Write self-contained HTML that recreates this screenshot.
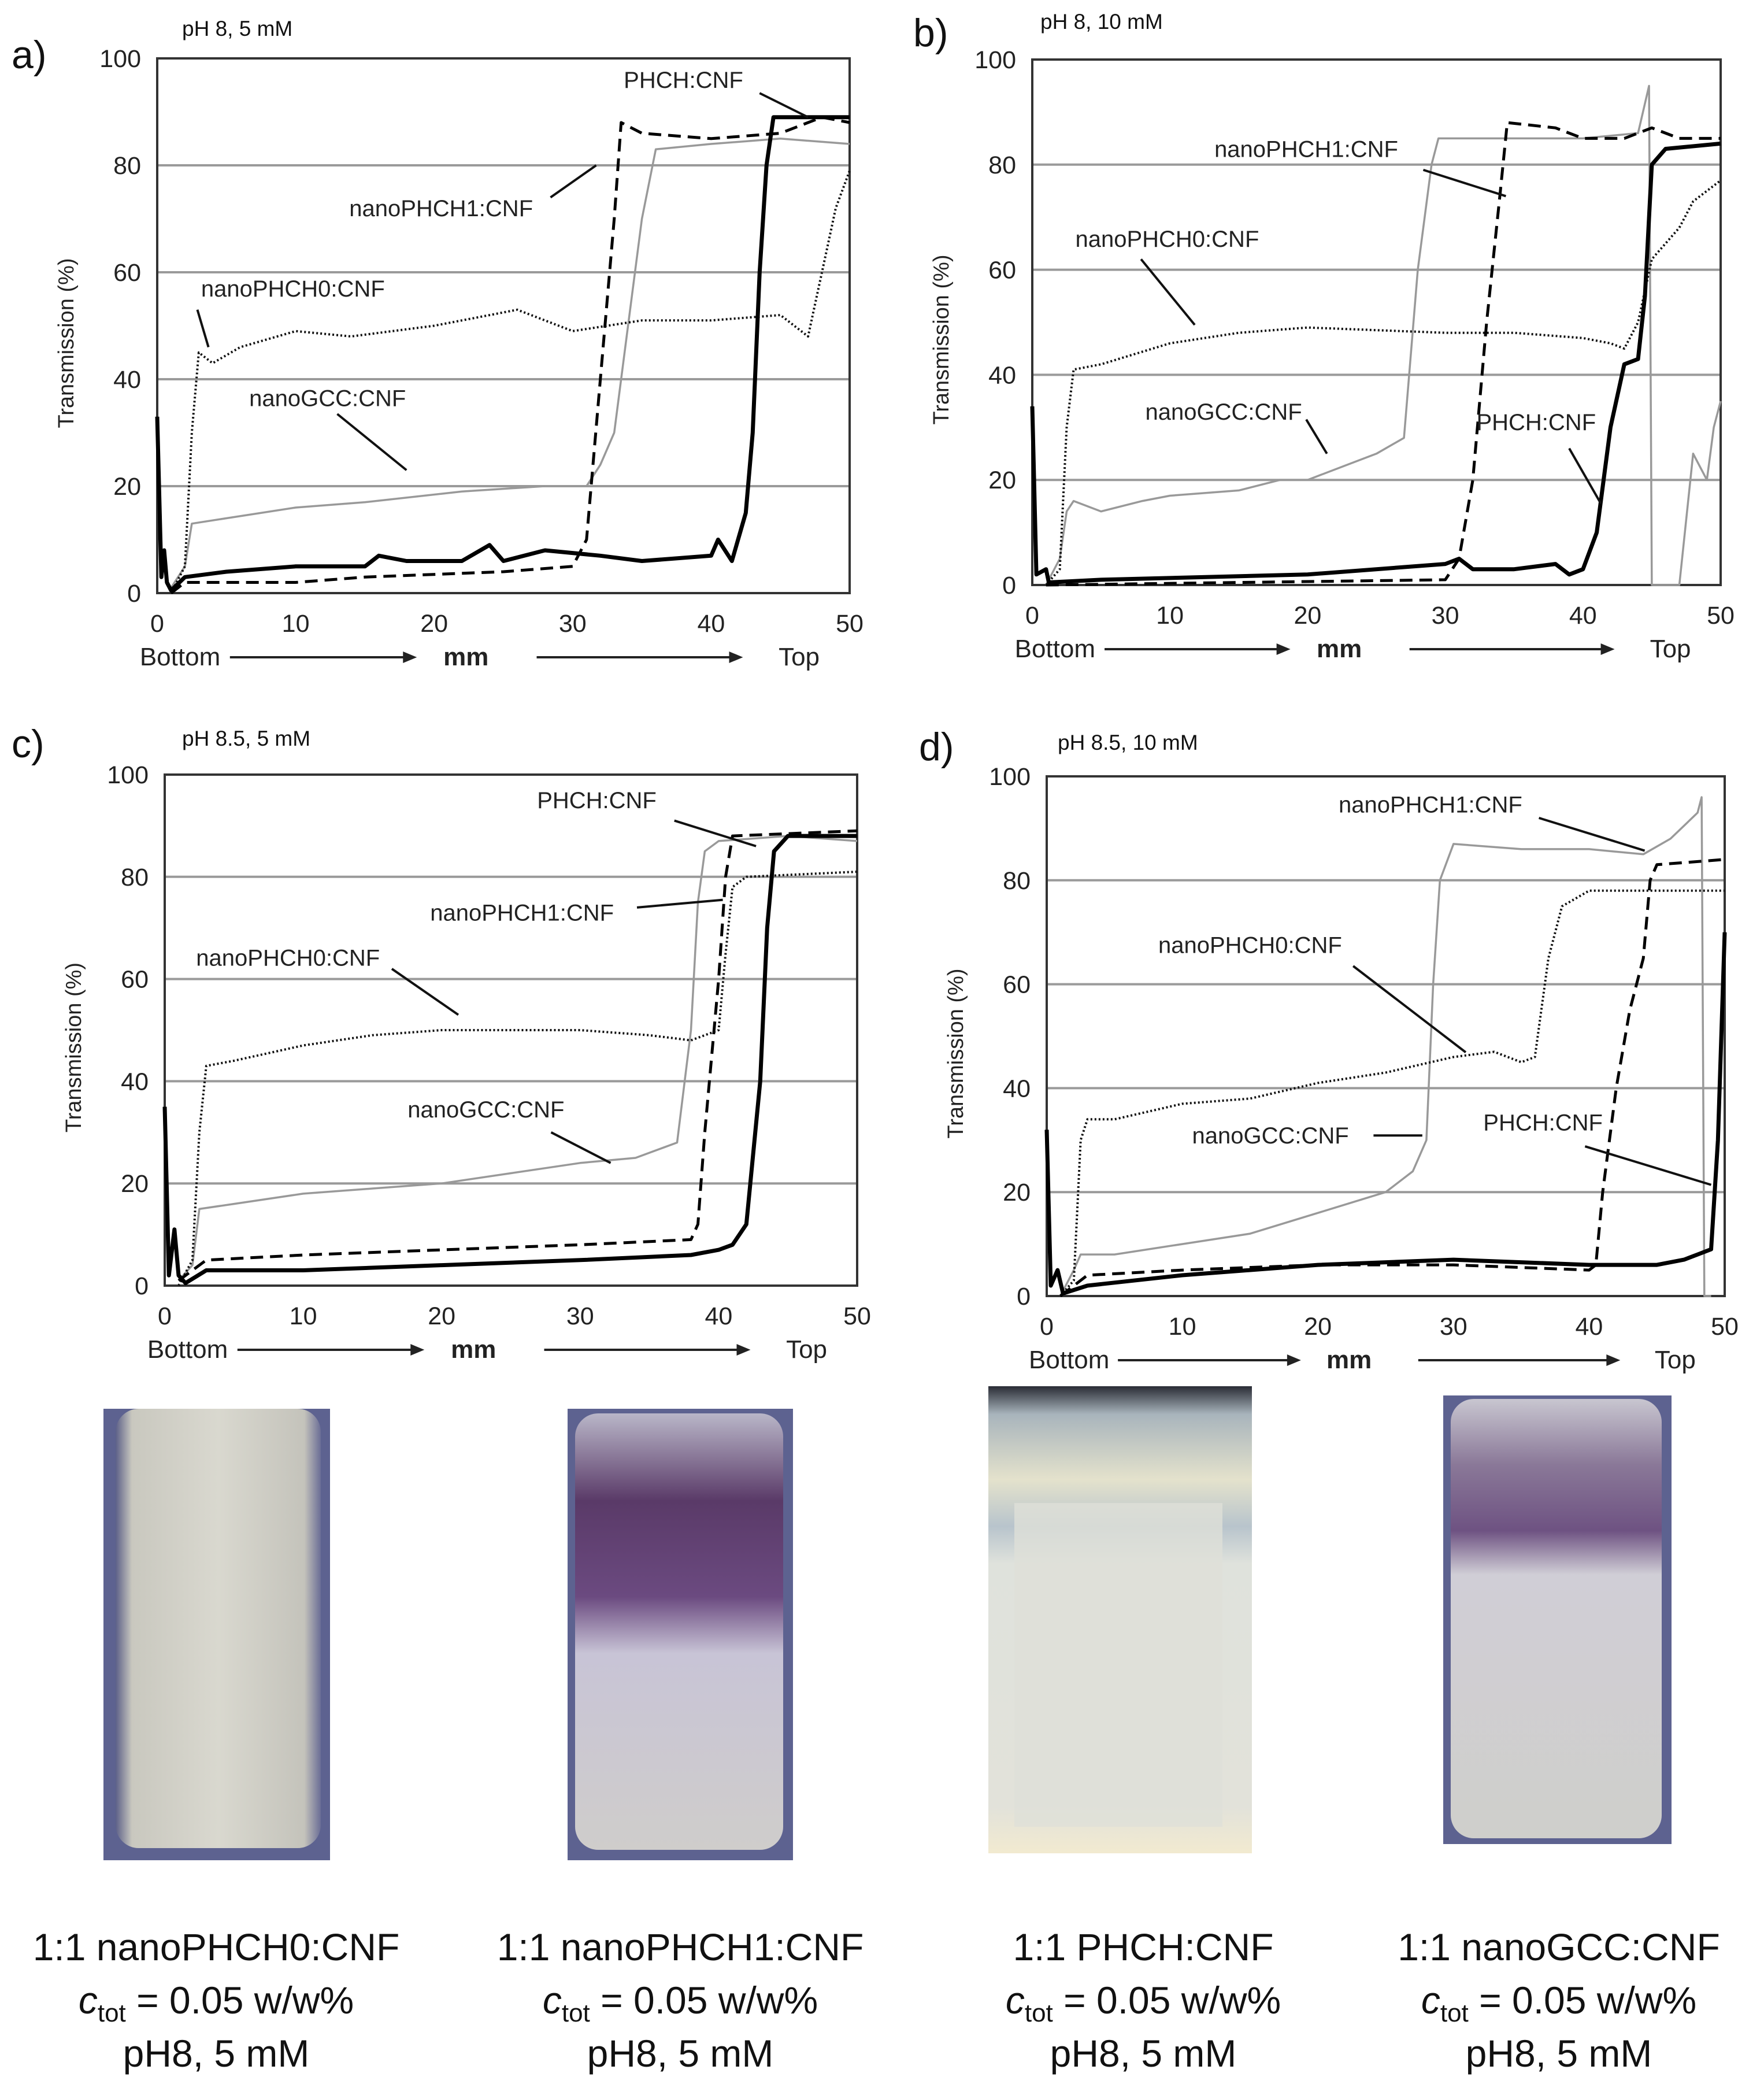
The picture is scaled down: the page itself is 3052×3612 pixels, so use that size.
<!DOCTYPE html>
<html><head><meta charset="utf-8"><style>
html,body{margin:0;padding:0;background:#fff;}
svg{display:block;font-family:"Liberation Sans",Arial,sans-serif;}
</style></head><body>
<svg id="fig" width="3052" height="3612" viewBox="0 0 3052 3612" xmlns="http://www.w3.org/2000/svg">
<defs>
<linearGradient id="g1" x1="0" y1="0" x2="1" y2="0"><stop offset="0" stop-color="#5c6088"/><stop offset="0.08" stop-color="#c9c8bf"/><stop offset="0.5" stop-color="#d9d8cf"/><stop offset="0.92" stop-color="#c4c3bb"/><stop offset="1" stop-color="#6b6e96"/></linearGradient>
<linearGradient id="g2" x1="0" y1="0" x2="0" y2="1"><stop offset="0" stop-color="#b9b6c8"/><stop offset="0.2" stop-color="#5a3a68"/><stop offset="0.42" stop-color="#6b4a80"/><stop offset="0.55" stop-color="#c8c4d6"/><stop offset="1" stop-color="#cfcdcb"/></linearGradient>
<linearGradient id="g4" x1="0" y1="0" x2="0" y2="1"><stop offset="0" stop-color="#c8c6d0"/><stop offset="0.15" stop-color="#8a7898"/><stop offset="0.3" stop-color="#6e5282"/><stop offset="0.4" stop-color="#d0ced6"/><stop offset="1" stop-color="#cfcfcb"/></linearGradient>
<linearGradient id="g3" x1="0" y1="0" x2="0" y2="1"><stop offset="0" stop-color="#2a2c35"/><stop offset="0.06" stop-color="#a8b4bc"/><stop offset="0.2" stop-color="#e4e2cc"/><stop offset="0.3" stop-color="#b8c4cc"/><stop offset="0.38" stop-color="#dfe2dc"/><stop offset="0.9" stop-color="#e2e2da"/><stop offset="1" stop-color="#f2ead0"/></linearGradient>
</defs>
<g id="charts"></g>
<g id="photos">
<rect x="179" y="2437" width="392" height="781" fill="#5d6290"/>
<rect x="200" y="2437" width="355" height="760" rx="40" fill="url(#g1)"/>
<rect x="982" y="2437" width="390" height="781" fill="#5d6290"/>
<rect x="995" y="2445" width="360" height="755" rx="40" fill="url(#g2)"/>
<rect x="1710" y="2398" width="456" height="808" fill="url(#g3)"/>
<rect x="1755" y="2600" width="360" height="560" fill="#dfe0d8" opacity="0.8"/>
<rect x="2497" y="2414" width="395" height="776" fill="#5d6290"/>
<rect x="2510" y="2420" width="365" height="760" rx="40" fill="url(#g4)"/>
</g>
<g id="captions" font-size="66" text-anchor="middle" fill="#111">
<text x="374" y="3391">1:1 nanoPHCH0:CNF</text>
<text x="374" y="3483"><tspan font-style="italic">c</tspan><tspan font-size="44" dy="14">tot</tspan><tspan dy="-14"> = 0.05 w/w%</tspan></text>
<text x="374" y="3575">pH8, 5 mM</text>
<text x="1177" y="3391">1:1 nanoPHCH1:CNF</text>
<text x="1177" y="3483"><tspan font-style="italic">c</tspan><tspan font-size="44" dy="14">tot</tspan><tspan dy="-14"> = 0.05 w/w%</tspan></text>
<text x="1177" y="3575">pH8, 5 mM</text>
<text x="1978" y="3391">1:1 PHCH:CNF</text>
<text x="1978" y="3483"><tspan font-style="italic">c</tspan><tspan font-size="44" dy="14">tot</tspan><tspan dy="-14"> = 0.05 w/w%</tspan></text>
<text x="1978" y="3575">pH8, 5 mM</text>
<text x="2697" y="3391">1:1 nanoGCC:CNF</text>
<text x="2697" y="3483"><tspan font-style="italic">c</tspan><tspan font-size="44" dy="14">tot</tspan><tspan dy="-14"> = 0.05 w/w%</tspan></text>
<text x="2697" y="3575">pH8, 5 mM</text>
</g>
</svg>
<script>
// ---- data (x in mm, y in %) ----
const xTicks = [0,10,20,30,40,50];
const yTicks = [0,20,40,60,80,100];
const panelLetters = ["a)","b)","c)","d)"];
const panelTitles = ["pH 8, 5 mM","pH 8, 10 mM","pH 8.5, 5 mM","pH 8.5, 10 mM"];
const seriesNames = ["PHCH:CNF","nanoPHCH1:CNF","nanoPHCH0:CNF","nanoGCC:CNF"];

const aPHCHx=[0,0.3,0.5,0.7,1,2,5,10,15,16,18,22,24,25,28,32,35,40,40.5,41.5,42.5,43,43.5,44,44.5,50];
const aPHCHy=[33,3,8,2,0.5,3,4,5,5,7,6,6,9,6,8,7,6,7,10,6,15,30,60,80,89,89];
const aN1x=[1,2,10,15,25,30,31,32,33,33.5,35,40,45,48,50];
const aN1y=[0,2,2,3,4,5,10,40,70,88,86,85,86,89,88];
const aN0x=[1,2,2.5,3,4,6,10,14,20,26,30,35,40,45,47,48,49,50];
const aN0y=[0,5,30,45,43,46,49,48,50,53,49,51,51,52,48,60,72,79];
const aGx=[1,2,2.5,5,10,15,22,28,31,32,33,34,35,36,40,45,50];
const aGy=[1,5,13,14,16,17,19,20,20,24,30,50,70,83,84,85,84];

const bPHCHx=[0,0.3,1,1.2,5,20,30,31,32,35,38,39,40,41,42,43,44,44.5,45,46,50];
const bPHCHy=[34,2,3,0.5,1,2,4,5,3,3,4,2,3,10,30,42,43,55,80,83,84];
const bN1x=[1,30,31,32,33,34,34.5,38,40,43,45,47,50];
const bN1y=[0,1,5,20,50,75,88,87,85,85,87,85,85];
const bN0x=[1,2,2.5,3,5,10,15,20,30,35,40,42,43,44,45,47,48,50];
const bN0y=[0,3,30,41,42,46,48,49,48,48,47,46,45,50,62,68,73,77];
const bGx=[1,2,2.5,3,5,8,10,15,18,20,23,25,27,28,29,29.5,40,44,44.8,45,47,48,49,49.5,50];
const bGy=[0,5,14,16,14,16,17,18,20,20,23,25,28,60,80,85,85,86,95,0,0,25,20,30,35];

const cPHCHx=[0,0.3,0.7,1,1.5,3,10,20,30,38,40,41,42,43,43.5,44,45,50];
const cPHCHy=[35,2,11,2,0.5,3,3,4,5,6,7,8,12,40,70,85,88,88];
const cN1x=[1,3,10,20,30,38,38.5,39,40,40.5,41,50];
const cN1y=[1,5,6,7,8,9,12,30,60,80,88,89];
const cN0x=[1,2,2.5,3,5,10,15,20,25,30,35,38,39,40,40.5,41,42,50];
const cN0y=[0,5,30,43,44,47,49,50,50,50,49,48,49,50,65,78,80,81];
const cGx=[1,2,2.5,5,10,15,20,25,30,34,36,37,38,38.5,39,40,45,50];
const cGy=[1,4,15,16,18,19,20,22,24,25,27,28,50,75,85,87,88,87];

const dPHCHx=[0,0.3,0.8,1.2,3,10,20,30,40,45,47,48,49,49.5,50];
const dPHCHy=[32,2,5,0.5,2,4,6,7,6,6,7,8,9,30,70];
const dN1x=[1,3,10,20,30,40,40.5,41,42,43,44,44.5,45,50];
const dN1y=[0,4,5,6,6,5,6,20,40,55,65,80,83,84];
const dN0x=[1,2,2.5,3,5,10,15,20,25,30,33,35,36,37,38,40,50];
const dN0y=[0,3,30,34,34,37,38,41,43,46,47,45,46,65,75,78,78];
const dGx=[1,2,2.5,5,10,15,20,25,27,28,28.5,29,30,35,40,44,46,48,48.3,48.5,49];
const dGy=[0,5,8,8,10,12,16,20,24,30,60,80,87,86,86,85,88,93,96,0,0];

const panelSeries = [
  [[aPHCHx,aPHCHy],[aN1x,aN1y],[aN0x,aN0y],[aGx,aGy]],
  [[bPHCHx,bPHCHy],[bN1x,bN1y],[bN0x,bN0y],[bGx,bGy]],
  [[cPHCHx,cPHCHy],[cN1x,cN1y],[cN0x,cN0y],[cGx,cGy]],
  [[dPHCHx,dPHCHy],[dN1x,dN1y],[dN0x,dN0y],[dGx,dGy]]
];
const annA=[["PHCH:CNF",38,96,43.5,93.5,47,89],["nanoPHCH1:CNF",20.5,72,28.4,74,31.7,80],["nanoPHCH0:CNF",9.8,57,2.9,53,3.7,46],["nanoGCC:CNF",12.3,36.5,13,33.5,18,23]];
const annB=[["nanoPHCH1:CNF",19.9,83,28.4,79,34.4,74],["nanoPHCH0:CNF",9.8,65.9,7.9,62,11.8,49.5],["nanoGCC:CNF",13.9,33,19.9,31.5,21.4,25],["PHCH:CNF",36.6,31,39,26,41.3,15.5]];
const annC=[["PHCH:CNF",31.2,95,36.8,91,42.7,86],["nanoPHCH1:CNF",25.8,73,34.1,74,40.3,75.5],["nanoPHCH0:CNF",8.9,64.2,16.4,62,21.2,53],["nanoGCC:CNF",23.2,34.5,27.9,30,32.2,24]];
const annD=[["nanoPHCH1:CNF",28.3,94.6,36.3,92,44.1,85.7],["nanoPHCH0:CNF",15,67.6,22.6,63.5,30.9,46.9],["nanoGCC:CNF",16.5,30.9,24.1,30.9,27.7,30.9],["PHCH:CNF",36.6,33.4,39.7,28.8,49,21.4]];
const panelAnn=[annA,annB,annC,annD];

const boxes=[{l:272,r:1470,t:101,b:1026},{l:1786,r:2977,t:103,b:1012},{l:285,r:1483,t:1340,b:2224},{l:1811,r:2984,t:1343,b:2242}];
const letterPos=[[20,118],[1580,80],[20,1310],[1590,1315]];
const titlePos=[[315,62],[1800,50],[315,1290],[1830,1297]];
const styles=[
 {stroke:"#000","stroke-width":7,dash:null},
 {stroke:"#000","stroke-width":5,dash:"22 12"},
 {stroke:"#111","stroke-width":4,dash:"3 4"},
 {stroke:"#999","stroke-width":3.5,dash:null}
];
const NS="http://www.w3.org/2000/svg";
const root=document.getElementById('charts');
function mk(tag,attrs,parent){const e=document.createElementNS(NS,tag);for(const k in attrs)e.setAttribute(k,attrs[k]);(parent||root).appendChild(e);return e;}

panelSeries.forEach((series,p)=>{
  const B=boxes[p];
  const sx=v=>B.l+(v-xTicks[0])/(xTicks[xTicks.length-1]-xTicks[0])*(B.r-B.l);
  const sy=v=>B.b-(v-yTicks[0])/(yTicks[yTicks.length-1]-yTicks[0])*(B.b-B.t);
  const g=mk('g',{});
  
  
  const lt=mk('text',{x:letterPos[p][0],y:letterPos[p][1],'font-size':68,fill:'#111'},g);lt.textContent=panelLetters[p];
  
  
  const tt=mk('text',{x:titlePos[p][0],y:titlePos[p][1],'font-size':37,fill:'#111'},g);tt.textContent=panelTitles[p];
  
  
  yTicks.forEach(v=>{
    if(v>0&&v<100){const gl=mk('line',{x1:B.l,x2:B.r,y1:sy(v),y2:sy(v),stroke:'#9a9a9a','stroke-width':4},g);
      
      }
    const t=mk('text',{x:B.l-28,y:sy(v)+15,'font-size':43,'text-anchor':'end',fill:'#222'},g);t.textContent=v;
    
    
  });
  xTicks.forEach(v=>{
    const t=mk('text',{x:sx(v),y:B.b+67,'font-size':43,'text-anchor':'middle',fill:'#222'},g);t.textContent=v;
    
    
  });
  const fr=mk('rect',{x:B.l,y:B.t,width:B.r-B.l,height:B.b-B.t,fill:'none',stroke:'#333','stroke-width':4},g);
  
  
  const cx=B.l-145, cy=(B.t+B.b)/2+30;
  const yt=mk('text',{x:cx,y:cy,'font-size':38,'text-anchor':'middle',fill:'#222',transform:`rotate(-90 ${cx} ${cy})`},g);yt.textContent='Transmission (%)';
  
  
  const W=B.r-B.l, by=B.b+125;
  const items=[["Bottom",0.033],["mm",0.446],["Top",0.927]];
  items.forEach(([s,f])=>{const t=mk('text',{x:B.l+f*W,y:by,'font-size':44,'text-anchor':'middle',fill:'#222','font-weight':s==='mm'?'bold':'normal'},g);t.textContent=s;
    
    });
  [[0.105,0.375],[0.548,0.846]].forEach(([a,b])=>{
    const ar=mk('g',{},g);
    
    
    mk('line',{x1:B.l+a*W,x2:B.l+b*W-20,y1:by-14,y2:by-14,stroke:'#222','stroke-width':4},ar);
    mk('polygon',{points:`${B.l+b*W},${by-14} ${B.l+b*W-24},${by-24} ${B.l+b*W-24},${by-4}`,fill:'#222'},ar);
  });
  [3,2,1,0].forEach(i=>{
    const [xs,ys]=series[i];
    const d=xs.map((x,k)=>(k?'L':'M')+sx(x).toFixed(1)+','+sy(ys[k]).toFixed(1)).join(' ');
    const st=styles[i];
    const a={d:d,fill:'none',stroke:st.stroke,'stroke-width':st['stroke-width'],'stroke-linejoin':'round'};
    if(st.dash)a['stroke-dasharray']=st.dash;
    const pth=mk('path',a,g);
    
    
  });
  panelAnn[p].forEach(an=>{
    const t=mk('text',{x:sx(an[1]),y:sy(an[2])+14,'font-size':40,'text-anchor':'middle',fill:'#222'},g);t.textContent=an[0];
    
    
    const l=mk('line',{x1:sx(an[3]),y1:sy(an[4]),x2:sx(an[5]),y2:sy(an[6]),stroke:'#111','stroke-width':4},g);
    
    
  });
});
</script>
</body></html>
